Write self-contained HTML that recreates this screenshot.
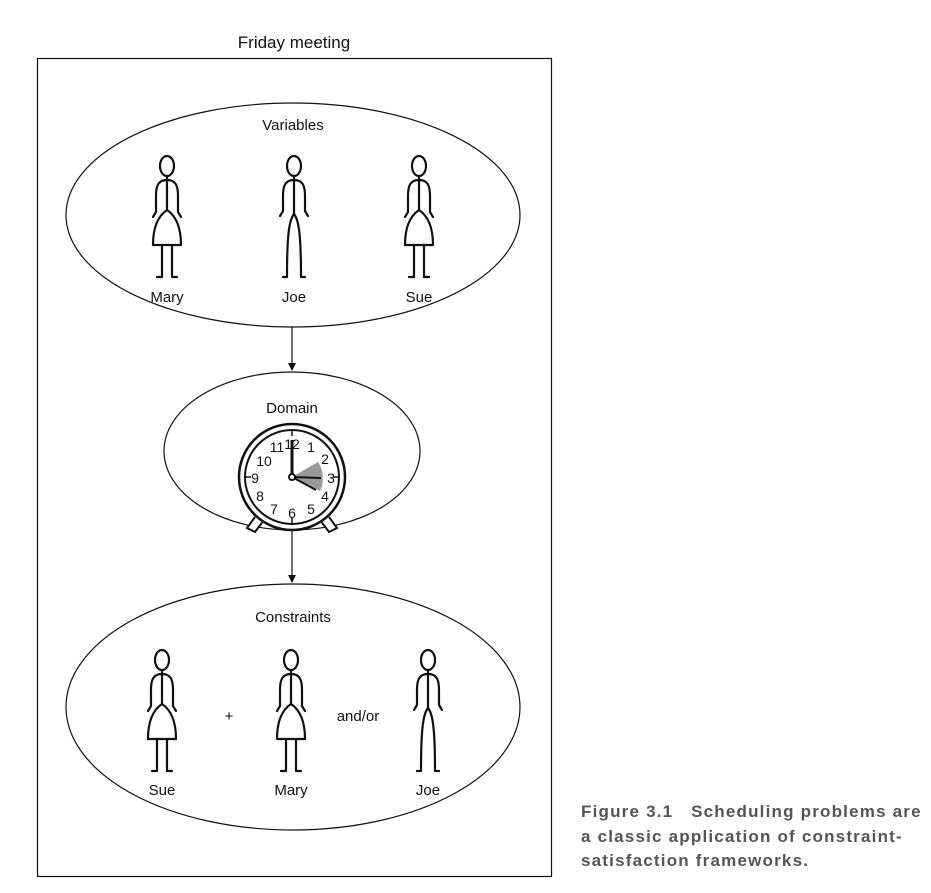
<!DOCTYPE html>
<html><head><meta charset="utf-8"><style>
html,body{margin:0;padding:0;background:#fff;width:931px;height:893px;overflow:hidden}
svg{display:block}
text{font-family:"Liberation Sans",sans-serif}
.cap{position:absolute;left:581px;top:800px;font:bold 17px "Liberation Sans",sans-serif;color:#555;line-height:24.5px;letter-spacing:1.2px;white-space:nowrap}
</style></head><body>
<svg width="931" height="893" viewBox="0 0 931 893">
<defs>
<g id="woman" fill="none" stroke="#111" stroke-width="2.2" stroke-linecap="round" stroke-linejoin="round">
<ellipse cx="0" cy="0" rx="7" ry="10" fill="#fff"/>
<line x1="0" y1="10" x2="0" y2="44"/>
<path d="M0 14 C-9 14 -11 20 -11 30 L-11 46 L-14 51"/>
<path d="M0 14 C9 14 11 20 11 30 L11 46 L14 51"/>
<path d="M0 44 C-9 50 -14 62 -14 79 L14 79 C14 62 9 50 0 44 Z"/>
<path d="M-5 79 L-5 111 L-10 111"/>
<path d="M5 79 L5 111 L10 111"/>
</g>
<g id="man" fill="none" stroke="#111" stroke-width="2.2" stroke-linecap="round" stroke-linejoin="round">
<ellipse cx="0" cy="0" rx="7" ry="10" fill="#fff"/>
<line x1="0" y1="10" x2="0" y2="48"/>
<path d="M0 14 C-9 14 -11 20 -11 30 L-11 45 L-14 50"/>
<path d="M0 14 C9 14 11 20 11 30 L11 45 L14 50"/>
<path d="M0 48 C-5 54 -7 70 -7 111 L-11 111"/>
<path d="M0 48 C5 54 7 70 7 111 L11 111"/>
</g>
<marker id="ar" markerWidth="8" markerHeight="8" refX="7" refY="4" orient="auto" markerUnits="userSpaceOnUse"><path d="M0 0 L8 4 L0 8 Z" fill="#111"/></marker>
</defs>
<text x="294" y="48" font-size="17" text-anchor="middle" fill="#111">Friday meeting</text>
<rect x="37.5" y="58.5" width="514" height="818" fill="none" stroke="#111" stroke-width="1.2"/>

<ellipse cx="293" cy="215" rx="227" ry="112" fill="none" stroke="#111" stroke-width="1.2"/>
<text x="293" y="130" font-size="15" text-anchor="middle" fill="#111">Variables</text>
<use href="#woman" x="167" y="166"/>
<use href="#man" x="294" y="166"/>
<use href="#woman" x="419" y="166"/>
<text x="167" y="302" font-size="15" text-anchor="middle" fill="#111">Mary</text>
<text x="294" y="302" font-size="15" text-anchor="middle" fill="#111">Joe</text>
<text x="419" y="302" font-size="15" text-anchor="middle" fill="#111">Sue</text>

<line x1="292" y1="327" x2="292" y2="370" stroke="#111" stroke-width="1.2" marker-end="url(#ar)"/>

<ellipse cx="292" cy="451" rx="128" ry="79" fill="none" stroke="#111" stroke-width="1.2"/>
<text x="292" y="413" font-size="15" text-anchor="middle" fill="#111">Domain</text>
<g stroke="#111" fill="#fff" stroke-width="2">
<path d="M255 517 L247 528 L255 532 L264 520" />
<path d="M329 517 L337 528 L329 532 L320 520" />
<circle cx="292" cy="477" r="53" stroke-width="2.5"/>
<circle cx="292" cy="477" r="47" stroke-width="2"/>
</g>
<path d="M292 477 L318 462 A30 30 0 0 1 320 491 Z" fill="#999"/>
<g font-size="14" text-anchor="middle" fill="#111">
<text x="292" y="449">12</text><text x="311" y="452">1</text><text x="325" y="464">2</text>
<text x="331" y="483">3</text><text x="325" y="501">4</text><text x="311" y="514">5</text>
<text x="292" y="518">6</text><text x="274" y="514">7</text><text x="260" y="501">8</text>
<text x="255" y="483">9</text><text x="264" y="466">10</text><text x="277" y="452">11</text>
</g>
<g stroke="#111" stroke-width="1.5">
<line x1="292" y1="431" x2="292" y2="436"/><line x1="338" y1="477" x2="333" y2="477"/>
<line x1="292" y1="523" x2="292" y2="518"/><line x1="246" y1="477" x2="251" y2="477"/>
</g>
<line x1="292" y1="477" x2="292" y2="440" stroke="#111" stroke-width="3"/>
<line x1="292" y1="477" x2="321" y2="478" stroke="#111" stroke-width="2"/>
<line x1="292" y1="477" x2="316" y2="490" stroke="#111" stroke-width="2"/>
<circle cx="292" cy="477" r="3" fill="#fff" stroke="#111" stroke-width="2"/>

<line x1="292" y1="530" x2="292" y2="582" stroke="#111" stroke-width="1.2" marker-end="url(#ar)"/>

<ellipse cx="293" cy="707" rx="227" ry="123" fill="none" stroke="#111" stroke-width="1.2"/>
<text x="293" y="622" font-size="15" text-anchor="middle" fill="#111">Constraints</text>
<use href="#woman" x="162" y="660"/>
<use href="#woman" x="291" y="660"/>
<use href="#man" x="428" y="660"/>
<text x="229" y="721" font-size="15" text-anchor="middle" fill="#111">+</text>
<text x="358" y="721" font-size="15" text-anchor="middle" fill="#111">and/or</text>
<text x="162" y="795" font-size="15" text-anchor="middle" fill="#111">Sue</text>
<text x="291" y="795" font-size="15" text-anchor="middle" fill="#111">Mary</text>
<text x="428" y="795" font-size="15" text-anchor="middle" fill="#111">Joe</text>
</svg>
<div class="cap">Figure 3.1&nbsp;&nbsp; Scheduling problems are<br>a classic application of constraint-<br>satisfaction frameworks.</div>
</body></html>
